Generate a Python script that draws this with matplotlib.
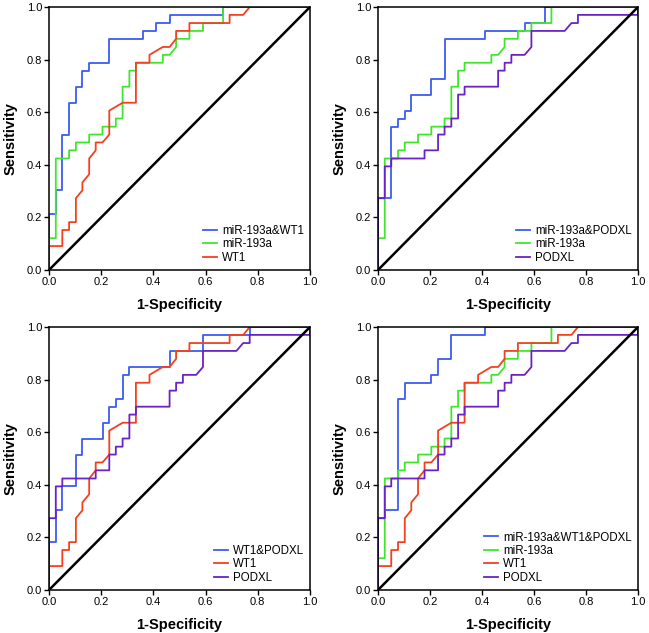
import matplotlib
matplotlib.use('Agg')
import matplotlib.pyplot as plt

plt.rcParams['font.family'] = ['Liberation Sans', 'DejaVu Sans']

# ROC vertices: (1-specificity, sensitivity)
combo_wt1_fpr = [0, 0, 0.026, 0.026, 0.051, 0.051, 0.077, 0.077, 0.103, 0.103, 0.128, 0.128,
                 0.154, 0.154, 0.231, 0.231, 0.359, 0.359, 0.410, 0.410, 0.462, 0.462, 0.667, 0.667, 1.0]
combo_wt1_tpr = [0, 0.212, 0.212, 0.303, 0.303, 0.515, 0.515, 0.636, 0.636, 0.697, 0.697, 0.758,
                 0.758, 0.788, 0.788, 0.879, 0.879, 0.909, 0.909, 0.939, 0.939, 0.970, 0.970, 1.0, 1.0]

combo_podxl_fpr = [0, 0, 0.051, 0.051, 0.077, 0.077, 0.103, 0.103, 0.128, 0.128, 0.205, 0.205,
                   0.256, 0.256, 0.410, 0.410, 0.564, 0.564, 0.641, 0.641, 1.0]
combo_podxl_tpr = [0, 0.273, 0.273, 0.545, 0.545, 0.576, 0.576, 0.606, 0.606, 0.667, 0.667, 0.727,
                   0.727, 0.879, 0.879, 0.909, 0.909, 0.939, 0.939, 1.0, 1.0]

wt1_podxl_fpr = [0, 0, 0.026, 0.026, 0.051, 0.051, 0.103, 0.103, 0.128, 0.128, 0.205, 0.205, 0.231,
                 0.231, 0.256, 0.256, 0.282, 0.282, 0.308, 0.308, 0.462, 0.462, 0.590, 0.590, 0.769,
                 0.769, 1.0]
wt1_podxl_tpr = [0, 0.182, 0.182, 0.303, 0.303, 0.394, 0.394, 0.515, 0.515, 0.576, 0.576, 0.636, 0.636,
                 0.697, 0.697, 0.727, 0.727, 0.818, 0.818, 0.848, 0.848, 0.909, 0.909, 0.970, 0.970,
                 1.0, 1.0]

combo_all_fpr = [0, 0, 0.026, 0.026, 0.077, 0.077, 0.103, 0.103, 0.205, 0.205, 0.231, 0.231,
                 0.282, 0.282, 0.410, 0.410, 1.0]
combo_all_tpr = [0, 0.273, 0.273, 0.303, 0.303, 0.727, 0.727, 0.788, 0.788, 0.818, 0.818, 0.879,
                 0.879, 0.970, 0.970, 1.0, 1.0]

mir_fpr = [0, 0, 0.026, 0.026, 0.077, 0.077, 0.103, 0.103, 0.154, 0.154, 0.205, 0.205, 0.256, 0.256,
           0.282, 0.282, 0.308, 0.308, 0.333, 0.333, 0.436, 0.436, 0.462, 0.487, 0.487, 0.538, 0.538,
           0.590, 0.590, 0.667, 0.667, 1.0]
mir_tpr = [0, 0.121, 0.121, 0.424, 0.424, 0.455, 0.455, 0.485, 0.485, 0.515, 0.515, 0.545, 0.545,
           0.576, 0.576, 0.697, 0.697, 0.758, 0.758, 0.788, 0.788, 0.818, 0.818, 0.848, 0.879, 0.879,
           0.909, 0.909, 0.939, 0.939, 1.0, 1.0]

wt1_fpr = [0, 0, 0.051, 0.051, 0.077, 0.077, 0.103, 0.103, 0.128, 0.128, 0.154, 0.154, 0.179, 0.179,
           0.205, 0.231, 0.231, 0.282, 0.333, 0.333, 0.385, 0.385, 0.436, 0.462, 0.487, 0.487, 0.538,
           0.538, 0.692, 0.692, 0.744, 0.769, 1.0]
wt1_tpr = [0, 0.091, 0.091, 0.152, 0.152, 0.182, 0.182, 0.273, 0.303, 0.333, 0.364, 0.424, 0.455,
           0.485, 0.485, 0.515, 0.606, 0.636, 0.636, 0.788, 0.788, 0.818, 0.848, 0.848, 0.879, 0.909,
           0.909, 0.939, 0.939, 0.970, 0.970, 1.0, 1.0]

podxl_fpr = [0, 0, 0.026, 0.026, 0.051, 0.051, 0.179, 0.179, 0.231, 0.231, 0.256, 0.256, 0.282, 0.282,
             0.308, 0.308, 0.333, 0.333, 0.462, 0.462, 0.487, 0.487, 0.513, 0.513, 0.564, 0.590, 0.590,
             0.718, 0.744, 0.769, 0.769, 1.0, 1.0]
podxl_tpr = [0, 0.273, 0.273, 0.394, 0.394, 0.424, 0.424, 0.455, 0.455, 0.515, 0.515, 0.545, 0.545,
             0.576, 0.576, 0.667, 0.667, 0.697, 0.697, 0.758, 0.758, 0.788, 0.788, 0.818, 0.818, 0.848,
             0.909, 0.909, 0.939, 0.939, 0.970, 0.970, 1.0]

BLUE = '#3c5cf2'
GREEN = '#40e62e'
RED = '#f4401f'
PURPLE = '#6a22c6'

curves = {
    'miR-193a&WT1': (combo_wt1_fpr, combo_wt1_tpr, BLUE),
    'miR-193a&PODXL': (combo_podxl_fpr, combo_podxl_tpr, BLUE),
    'WT1&PODXL': (wt1_podxl_fpr, wt1_podxl_tpr, BLUE),
    'miR-193a&WT1&PODXL': (combo_all_fpr, combo_all_tpr, BLUE),
    'miR-193a': (mir_fpr, mir_tpr, GREEN),
    'WT1': (wt1_fpr, wt1_tpr, RED),
    'PODXL': (podxl_fpr, podxl_tpr, PURPLE),
}

panels = [
    ['miR-193a&WT1', 'miR-193a', 'WT1'],
    ['miR-193a&PODXL', 'miR-193a', 'PODXL'],
    ['WT1&PODXL', 'WT1', 'PODXL'],
    ['miR-193a&WT1&PODXL', 'miR-193a', 'WT1', 'PODXL'],
]

W, H = 649, 633
# axes boxes in pixels: left, top, right, bottom
boxes = [(49, 7, 310, 270), (378, 7, 638, 270), (49, 327, 310, 590), (378, 327, 638, 590)]

fig = plt.figure(figsize=(W / 100, H / 100), dpi=100)

for names, (x0, y0, x1, y1) in zip(panels, boxes):
    ax = fig.add_axes([x0 / W, 1 - y1 / H, (x1 - x0) / W, (y1 - y0) / H])
    for name in names:
        fpr, tpr, color = curves[name]
        ax.plot(fpr, tpr, color=color, lw=1.3, label=name)
    # reference line
    ax.plot([0, 1], [0, 1], color='black', lw=1.8)

    ax.set_xlim(0, 1)
    ax.set_ylim(0, 1)
    ax.set_xticks([0, 0.2, 0.4, 0.6, 0.8, 1.0])
    ax.set_yticks([0, 0.2, 0.4, 0.6, 0.8, 1.0])
    ax.set_xticklabels(['0.0', '0.2', '0.4', '0.6', '0.8', '1.0'])
    ax.set_yticklabels(['0.0', '0.2', '0.4', '0.6', '0.8', '1.0'])
    ax.tick_params(direction='out', length=3.5, width=1.0, labelsize=8, pad=1.5, colors='black')
    for sp in ax.spines.values():
        sp.set_linewidth(1.1)

    ax.set_xlabel('1-Specificity', fontsize=10.5, fontweight='bold')
    ax.set_ylabel('Sensitivity', fontsize=10.5, fontweight='bold')
    ax.xaxis.set_label_coords(0.5, -0.105)
    ax.yaxis.set_label_coords(-0.12, 0.5)

    ax.legend(loc='lower right', frameon=False, fontsize=8.3, handlelength=1.25,
              handletextpad=0.4, labelspacing=0.12, borderaxespad=0.25, borderpad=0.3)

fig.savefig('out.png', dpi=100)
